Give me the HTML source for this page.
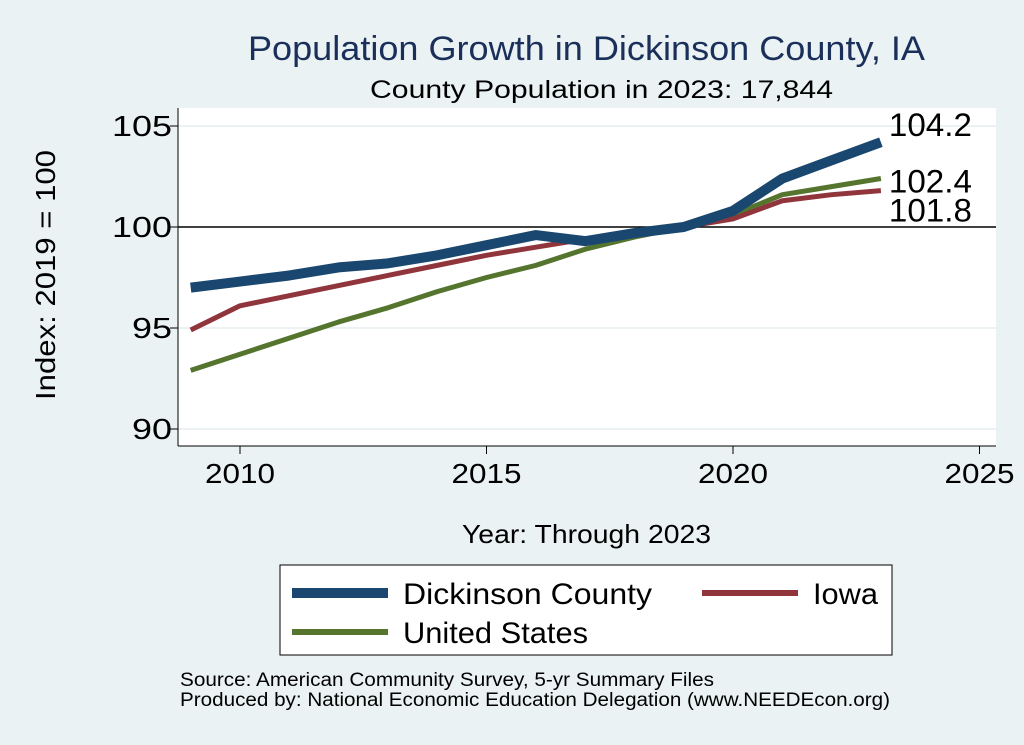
<!DOCTYPE html>
<html><head><meta charset="utf-8"><style>
body{margin:0;background:#eaf2f3;}
svg{display:block;font-family:"Liberation Sans",sans-serif;}
</style></head><body>
<svg id="chart" width="1024" height="745">
<rect x="0" y="0" width="1024" height="745" fill="#eaf2f3"/>
<text x="248" y="60" font-size="34" fill="#1a2f5a" textLength="677" lengthAdjust="spacingAndGlyphs">Population Growth in Dickinson County, IA</text>
<text x="370" y="98" font-size="25" fill="#000" textLength="463" lengthAdjust="spacingAndGlyphs">County Population in 2023: 17,844</text>
<rect x="178" y="108" width="818" height="338" fill="#fff"/>
<g id="grid"></g><g id="axes"></g><g id="series"></g><g id="labels"></g>
<text x="0" y="0" font-size="28" text-anchor="middle" textLength="250" lengthAdjust="spacingAndGlyphs" transform="translate(55 275) rotate(-90)">Index: 2019 = 100</text>
<text x="462" y="543" font-size="26" textLength="249" lengthAdjust="spacingAndGlyphs">Year: Through 2023</text>
<g>
<rect x="280" y="565" width="612" height="90" fill="#fff" stroke="#000" stroke-width="1"/>
<line x1="292" y1="593" x2="388" y2="593" stroke="#1a476f" stroke-width="10"/>
<text x="403" y="604" font-size="30" textLength="249" lengthAdjust="spacingAndGlyphs">Dickinson  County</text>
<line x1="702" y1="593" x2="798" y2="593" stroke="#90353b" stroke-width="6"/>
<text x="813" y="604" font-size="30" textLength="65" lengthAdjust="spacingAndGlyphs">Iowa</text>
<line x1="292" y1="632" x2="388" y2="632" stroke="#55752f" stroke-width="6"/>
<text x="403" y="643" font-size="30" textLength="185" lengthAdjust="spacingAndGlyphs">United States</text>
</g>
<text x="180" y="686" font-size="19" textLength="534" lengthAdjust="spacingAndGlyphs">Source: American Community Survey, 5-yr Summary Files</text>
<text x="180" y="706" font-size="19" textLength="710" lengthAdjust="spacingAndGlyphs">Produced by: National Economic Education Delegation (www.NEEDEcon.org)</text>
</svg>
<script>
const years=[2009,2010,2011,2012,2013,2014,2015,2016,2017,2018,2019,2020,2021,2022,2023];
const dickinson=[97.0,97.3,97.6,98.0,98.2,98.6,99.1,99.6,99.3,99.7,100.0,100.8,102.4,103.3,104.2];
const iowa=[94.9,96.1,96.6,97.1,97.6,98.1,98.6,99.0,99.4,99.8,100.0,100.4,101.3,101.6,101.8];
const us=[92.9,93.7,94.5,95.3,96.0,96.8,97.5,98.1,98.9,99.5,100.0,100.6,101.6,102.0,102.4];
const xTicks=[2010,2015,2020,2025];
const yTicks=[90,95,100,105];
const NS="http://www.w3.org/2000/svg";
const xs=v=>240+(v-2010)*49.3;
const ys=v=>227-(v-100)*20.2;
function mk(tag,attrs,parent){const e=document.createElementNS(NS,tag);for(const k in attrs)e.setAttribute(k,attrs[k]);document.getElementById(parent).appendChild(e);return e;}
yTicks.forEach(t=>{
 if(t!==100){const g=mk('line',{x1:178,x2:996,y1:ys(t),y2:ys(t),stroke:'#e6eef0','stroke-width':1.5},'grid');
 
 }
 const tk=mk('line',{x1:170,x2:178,y1:ys(t),y2:ys(t),stroke:'#000'},'axes');
 
 
 const tx=mk('text',{x:172,y:ys(t)+10,'font-size':29,'text-anchor':'end',textLength:String(t).length*20,lengthAdjust:'spacingAndGlyphs'},'axes');tx.textContent=t;
 
 
});
const ref=mk('line',{x1:178,x2:996,y1:ys(100),y2:ys(100),stroke:'#000','stroke-width':1.5},'grid');


xTicks.forEach(t=>{
 const tk=mk('line',{x1:xs(t),x2:xs(t),y1:446,y2:454,stroke:'#000'},'axes');
 
 
 const tx=mk('text',{x:xs(t),y:483,'font-size':28,'text-anchor':'middle',textLength:70,lengthAdjust:'spacingAndGlyphs'},'axes');tx.textContent=t;
 
 
});
const ya=mk('line',{x1:178,x2:178,y1:108,y2:446,stroke:'#000'},'axes');


const xa=mk('line',{x1:178,x2:996,y1:446,y2:446,stroke:'#000'},'axes');


function series(vals,color,w,name){
 const p=mk('polyline',{points:years.map((y,i)=>xs(y)+','+ys(vals[i])).join(' '),fill:'none',stroke:color,'stroke-width':w,'stroke-linejoin':'round'},'series');
 
 
}
series(us,'#55752f',5,'us');
series(iowa,'#90353b',5,'iowa');
series(dickinson,'#1a476f',10,'dickinson');
const n=years.length-1;
[[dickinson,'dickinson',-6],[us,'us',14],[iowa,'iowa',31]].forEach(([v,nm,dy])=>{
 const t=mk('text',{x:xs(years[n])+8,y:ys(v[n])+dy,'font-size':32,textLength:83,lengthAdjust:'spacingAndGlyphs'},'labels');t.textContent=v[n].toFixed(1);
 
 
});
</script>
</body></html>
